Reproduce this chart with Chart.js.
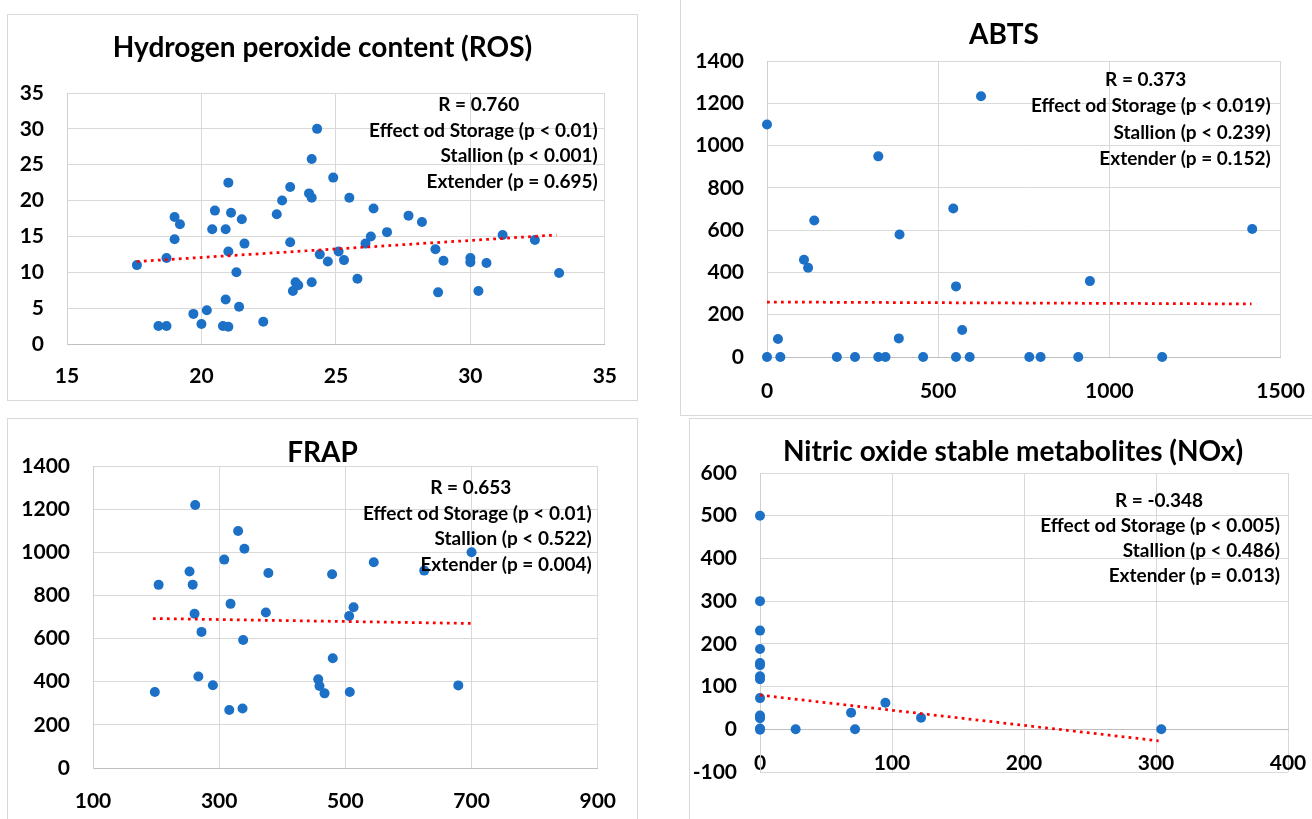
<!DOCTYPE html>
<html>
<head>
<meta charset="utf-8">
<script src="https://cdn.jsdelivr.net/npm/chart.js@4.4.1/dist/chart.umd.min.js"></script>
<style>
    html, body { margin: 0; padding: 0; background: #fff; overflow: hidden; }
    body { width: 1312px; height: 819px; position: relative; }
    .panel { position: absolute; outline: 1px solid #d9d9d9; background: #fff; }
    .panel canvas { display: block; }
</style>
</head>
<body>
<div class="panel" style="left:8px;top:15px;width:629px;height:385px"><canvas id="chart-ros" width="629" height="385"></canvas></div>
<div class="panel" style="left:681px;top:-5px;width:646px;height:420px"><canvas id="chart-abts" width="646" height="420"></canvas></div>
<div class="panel" style="left:8px;top:419px;width:629px;height:400px"><canvas id="chart-frap" width="629" height="400"></canvas></div>
<div class="panel" style="left:690px;top:419px;width:646px;height:400px"><canvas id="chart-nox" width="646" height="400"></canvas></div>
<script>
// ── Chart defaults ────────────────────────────────────────────────────────────
Chart.defaults.font.family = "Lato, 'Open Sans', 'Liberation Sans', sans-serif";
Chart.defaults.font.weight = 'bold';
Chart.defaults.color       = '#000';

const POINT_COLOR = '#1c70c6';
const TREND_COLOR = '#ff0000';
const GRID_COLOR  = '#d9d9d9';

// ── Data: Hydrogen peroxide content (ROS) ─────────────────────────────────────
const rosX = [17.6, 18.4, 18.7, 18.7, 19.0, 19.0, 19.2, 19.7, 20.0, 20.2, 20.4, 20.5, 20.9, 20.9, 21.0,
              21.0, 20.8, 21.0, 21.1, 21.3, 21.4, 21.5, 21.6, 22.3, 22.8, 23.0, 23.3, 23.3, 23.4, 23.5,
              23.6, 24.0, 24.1, 24.1, 24.1, 24.3, 24.4, 24.7, 24.9, 25.1, 25.3, 25.5, 25.8, 26.1, 26.3,
              26.4, 26.9, 27.7, 28.2, 28.7, 28.8, 29.0, 30.0, 30.0, 30.3, 30.6, 31.2, 32.4, 33.3];
const rosY = [11.0, 2.5, 2.5, 12.0, 17.7, 14.6, 16.7, 4.2, 2.8, 4.7, 16.0, 18.6, 6.2, 16.0, 12.9,
              22.5, 2.5, 2.4, 18.3, 10.0, 5.2, 17.4, 14.0, 3.1, 18.1, 20.0, 14.2, 21.9, 7.4, 8.6,
              8.2, 21.0, 20.4, 25.8, 8.6, 30.0, 12.5, 11.5, 23.2, 12.9, 11.7, 20.4, 9.1, 14.0, 15.0,
              18.9, 15.6, 17.9, 17.0, 13.2, 7.2, 11.6, 11.4, 12.0, 7.4, 11.3, 15.2, 14.5, 9.9];
const rosTrendX = [17.6, 33.2];
const rosTrendY = [11.5, 15.2];
const rosNotes  = ['R = 0.760', 'Effect od Storage (p < 0.01)', 'Stallion (p < 0.001)', 'Extender (p = 0.695)'];

// ── Data: ABTS ────────────────────────────────────────────────────────────────
const abtsX = [0, 0, 32, 39, 108, 120, 138, 204, 257, 325, 325, 346, 385, 387, 456, 544, 552, 552,
               570, 592, 625, 766, 799, 909, 943, 1154, 1417];
const abtsY = [1100, 0, 85, 0, 460, 422, 646, 0, 0, 949, 0, 0, 88, 579, 0, 702, 334, 0,
               128, 0, 1233, 0, 0, 0, 359, 0, 605];
const abtsTrendX = [0, 1415];
const abtsTrendY = [260, 251];
const abtsNotes  = ['R = 0.373', 'Effect od Storage (p < 0.019)', 'Stallion (p < 0.239)', 'Extender (p = 0.152)'];

// ── Data: FRAP ────────────────────────────────────────────────────────────────
const frapX = [198, 204, 253, 258, 261, 262, 267, 272, 290, 308, 316, 318, 330, 337, 338,
               340, 374, 378, 457, 459, 467, 479, 480, 506, 507, 513, 545, 625, 679, 700];
const frapY = [352, 849, 911, 850, 715, 1219, 424, 631, 384, 966, 269, 761, 1099, 276, 593,
               1016, 721, 904, 411, 380, 346, 898, 509, 705, 352, 745, 954, 915, 383, 1000];
const frapTrendX = [195, 700];
const frapTrendY = [693, 670];
const frapNotes  = ['R = 0.653', 'Effect od Storage (p < 0.01)', 'Stallion (p < 0.522)', 'Extender (p = 0.004)'];

// ── Data: Nitric oxide stable metabolites (NOx) ───────────────────────────────
const noxX = [0, 0, 0, 0, 0, 0, 0, 0, 0, 0, 0, 0, 0, 27, 69, 72, 95, 122, 304];
const noxY = [500, 300, 231, 188, 155, 150, 124, 117, 73, 32, 26, 2, -1, 0, 39, 0, 62, 27, 0];
const noxTrendX = [0, 302];
const noxTrendY = [80, -27];
const noxNotes  = ['R = -0.348', 'Effect od Storage (p < 0.005)', 'Stallion (p < 0.486)', 'Extender (p = 0.013)'];

// ── Title + statistics text, placed relative to the plot area ─────────────────
const panelText = {
    id: 'panelText',
    afterDraw(chart, args, o) {
        const ctx = chart.ctx, ca = chart.chartArea;
        ctx.save();
        ctx.fillStyle = '#000';
        ctx.textBaseline = 'middle';
        ctx.font = "bold 28px Lato, 'Open Sans', sans-serif";
        ctx.textAlign = 'center';
        ctx.fillText(o.title, chart.width / 2, o.titleY);
        ctx.font = "bold 19px Lato, 'Open Sans', sans-serif";
        o.notes.forEach((line, i) => {
            const y = ca.top + o.noteTop + i * o.noteGap;
            if (i === 0) { ctx.textAlign = 'center'; ctx.fillText(line, ca.right - o.rOffset, y); }
            else         { ctx.textAlign = 'right';  ctx.fillText(line, ca.right - o.lineOffset, y); }
        });
        ctx.restore();
    }
};

function pts(xs, ys) { return xs.map((x, i) => ({ x, y: ys[i] })); }

function buildChart(id, p) {
    const xScale = {
        type: 'linear', min: p.xMin, max: p.xMax,
        grid: { color: GRID_COLOR, drawTicks: false },
        border: { color: '#bfbfbf' },
        ticks: { stepSize: p.xStep, padding: p.xPad, font: { size: 21 }, maxRotation: 0,
                 format: { useGrouping: false } },
        afterFit: s => { s.height = p.xHeight; }
    };
    if (p.xAtZero) xScale.position = { y: 0 };
    return new Chart(document.getElementById(id), {
        type: 'scatter',
        data: {
            datasets: [
                { type: 'line', data: pts(p.trendX, p.trendY), borderColor: TREND_COLOR,
                  borderWidth: 2.75, borderDash: [2.75, 4.25], pointRadius: 0, fill: false, order: 0 },
                { data: pts(p.xs, p.ys), backgroundColor: POINT_COLOR, borderWidth: 0,
                  pointRadius: 5, clip: false, order: 1 }
            ]
        },
        options: {
            responsive: false,
            animation: false,
            layout: { padding: p.pad },
            plugins: {
                legend: { display: false },
                tooltip: { enabled: false },
                panelText: p.text
            },
            scales: {
                x: xScale,
                y: {
                    type: 'linear', min: p.yMin, max: p.yMax,
                    grid: { color: GRID_COLOR, drawTicks: false },
                    border: { color: '#d0d0d0' },
                    ticks: { stepSize: p.yStep, padding: 23, font: { size: 21 },
                             format: { useGrouping: false } },
                    afterFit: s => { s.width = p.yWidth; }
                }
            }
        },
        plugins: [panelText]
    });
}

buildChart('chart-ros', {
    xs: rosX, ys: rosY, trendX: rosTrendX, trendY: rosTrendY,
    xMin: 15, xMax: 35, xStep: 5, yMin: 0, yMax: 35, yStep: 5,
    pad: { left: 0, right: 32, top: 78, bottom: 0 }, yWidth: 59, xHeight: 56, xPad: 20,
    text: { title: 'Hydrogen peroxide content (ROS)', titleY: 33, notes: rosNotes,
            noteTop: 12, noteGap: 25.5, rOffset: 126, lineOffset: 7 }
});

buildChart('chart-abts', {
    xs: abtsX, ys: abtsY, trendX: abtsTrendX, trendY: abtsTrendY,
    xMin: 0, xMax: 1500, xStep: 500, yMin: 0, yMax: 1400, yStep: 200,
    pad: { left: 0, right: 45, top: 66, bottom: 0 }, yWidth: 86, xHeight: 58, xPad: 22,
    text: { title: 'ABTS', titleY: 40, notes: abtsNotes,
            noteTop: 19, noteGap: 26.3, rOffset: 135, lineOffset: 10 }
});

buildChart('chart-frap', {
    xs: frapX, ys: frapY, trendX: frapTrendX, trendY: frapTrendY,
    xMin: 100, xMax: 900, xStep: 200, yMin: 0, yMax: 1400, yStep: 200,
    pad: { left: 0, right: 38, top: 47, bottom: 0 }, yWidth: 85, xHeight: 51, xPad: 21,
    text: { title: 'FRAP', titleY: 34, notes: frapNotes,
            noteTop: 22, noteGap: 25.5, rOffset: 127, lineOffset: 6 }
});

buildChart('chart-nox', {
    xs: noxX, ys: noxY, trendX: noxTrendX, trendY: noxTrendY,
    xMin: 0, xMax: 400, xStep: 100, yMin: -100, yMax: 600, yStep: 100, xAtZero: true,
    pad: { left: 0, right: 48, top: 54, bottom: 47 }, yWidth: 70, xHeight: 0, xPad: 21,
    text: { title: 'Nitric oxide stable metabolites (NOx)', titleY: 33, notes: noxNotes,
            noteTop: 28, noteGap: 25, rOffset: 129, lineOffset: 8 }
});
</script>
</body>
</html>
